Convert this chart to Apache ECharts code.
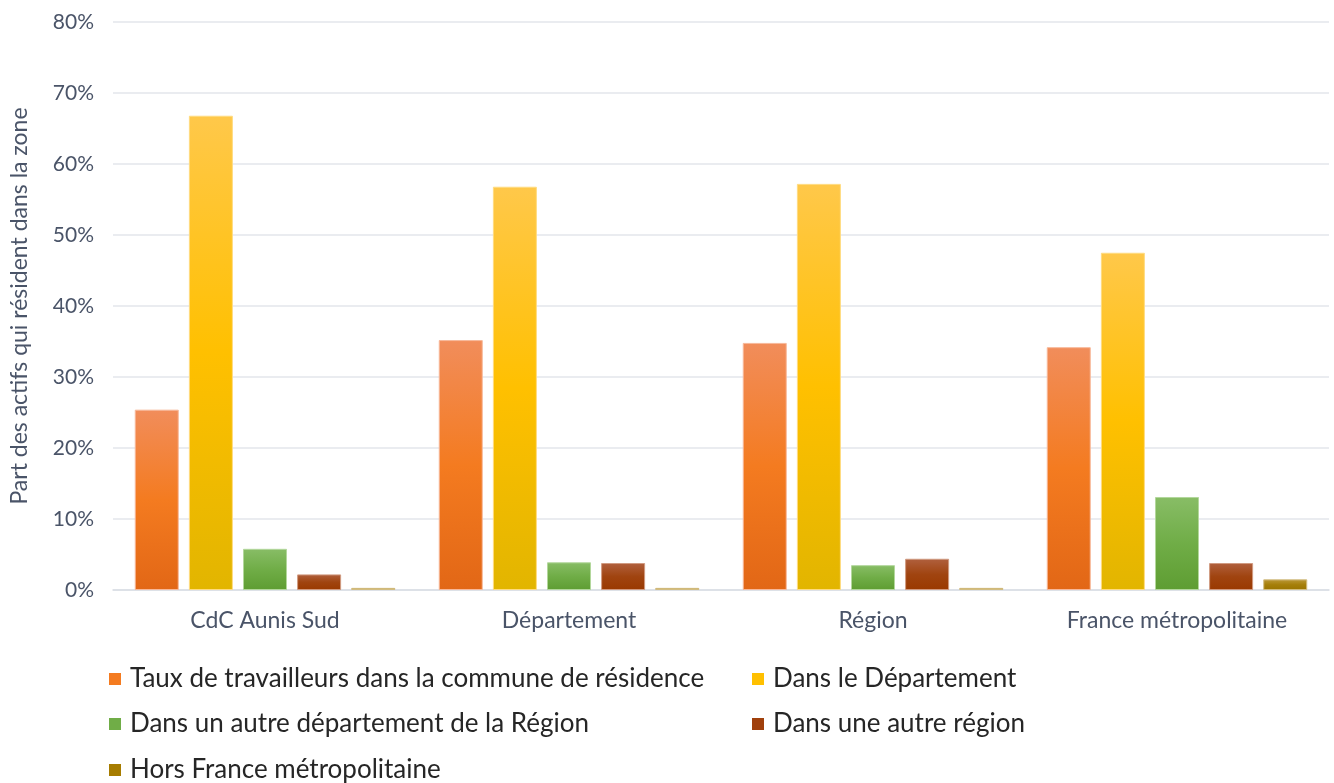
<!DOCTYPE html>
<html>
<head>
<meta charset="utf-8">
<script src="https://cdn.jsdelivr.net/npm/echarts@6/dist/echarts.min.js"></script>
<style>
  html, body { margin: 0; padding: 0; background: #fff; }
  #chart { width: 1334px; height: 783px; }
</style>
</head>
<body>
<div id="chart"></div>
<script>
// categories and values (% of workers)
var zones = ['CdC Aunis Sud', 'Département', 'Région', 'France métropolitaine'];
var seriesNames = [
    'Taux de travailleurs dans la commune de résidence',
    'Dans le Département',
    'Dans un autre département de la Région',
    'Dans une autre région',
    'Hors France métropolitaine'
];
var communeVals = [25.4, 35.2, 34.8, 34.2];
var departementVals = [66.8, 56.8, 57.2, 47.5];
var autreDepVals = [5.8, 3.9, 3.5, 13.1];
var autreRegionVals = [2.2, 3.8, 4.4, 3.8];
var horsFranceVals = [0.3, 0.3, 0.3, 1.5];
var yTicks = [0, 10, 20, 30, 40, 50, 60, 70, 80];

var allData = [communeVals, departementVals, autreDepVals, autreRegionVals, horsFranceVals];

// gradient colours top -> middle -> bottom
var gradients = [
    ['#F18D5B', '#F47B20', '#E26716'],
    ['#FFC84A', '#FFC000', '#E2B500'],
    ['#88BD66', '#70AD47', '#5E9D32'],
    ['#B0603E', '#A04410', '#9A3900'],
    ['#BB9838', '#A67F0A', '#9A7400']
];
var legendColors = ['#F47B20', '#FFC000', '#70AD47', '#A0400C', '#A67C00'];
var borders = ['#F7B899', '#FFDB80', '#B3D79C', '#D09A80', '#D2BC80'];

function grad(c) {
    return new echarts.graphic.LinearGradient(0, 0, 0, 1, [
        { offset: 0, color: c[0] },
        { offset: 0.5, color: c[1] },
        { offset: 1, color: c[2] }
    ]);
}

var series = [];
for (var i = 0; i < seriesNames.length; i++) {
    series.push({
        name: seriesNames[i],
        type: 'bar',
        barWidth: 44,
        barGap: '23%',
        data: allData[i],
        itemStyle: {
            color: grad(gradients[i]),
            borderColor: borders[i],
            borderWidth: 1
        }
    });
}

// legend positions (two columns)
var legendPos = [[104, 661], [747, 661], [104, 706], [747, 706], [104, 752]];
var legends = [];
for (var j = 0; j < seriesNames.length; j++) {
    legends.push({
        left: legendPos[j][0],
        top: legendPos[j][1],
        data: [{ name: seriesNames[j], itemStyle: { color: legendColors[j], borderWidth: 0 } }],
        itemWidth: 12,
        itemHeight: 12,
        itemGap: 6,
        icon: 'rect',
        textStyle: { fontFamily: 'Lato', fontSize: 26, color: '#262626', padding: [0, 0, 0, 4] },
        selectedMode: false
    });
}

var option = {
    backgroundColor: '#fff',
    animation: false,
    legend: legends,
    grid: {
        left: 109,
        right: 5,
        top: 22,
        bottom: 193
    },
    xAxis: {
        type: 'category',
        data: zones,
        axisTick: { show: false },
        axisLine: { lineStyle: { color: '#D9DDE3', width: 1.5 } },
        axisLabel: {
            margin: 19,
            fontFamily: 'Lato',
            fontSize: 23,
            color: '#4A5468'
        }
    },
    yAxis: {
        type: 'value',
        min: yTicks[0],
        max: yTicks[yTicks.length - 1],
        interval: 10,
        name: 'Part des actifs qui résident dans la zone',
        nameLocation: 'middle',
        nameGap: 82,
        nameTextStyle: { fontFamily: 'Lato', fontSize: 23, color: '#4A5468' },
        axisLine: { show: false },
        axisTick: { show: false },
        axisLabel: {
            margin: 19,
            fontFamily: 'Lato',
            fontSize: 21,
            color: '#4A5468',
            formatter: '{value}%'
        },
        splitLine: { lineStyle: { color: '#E3E6EB', width: 1.5 } }
    },
    series: series
};

var chart = echarts.init(document.getElementById('chart'));
chart.setOption(option);
</script>
</body>
</html>
